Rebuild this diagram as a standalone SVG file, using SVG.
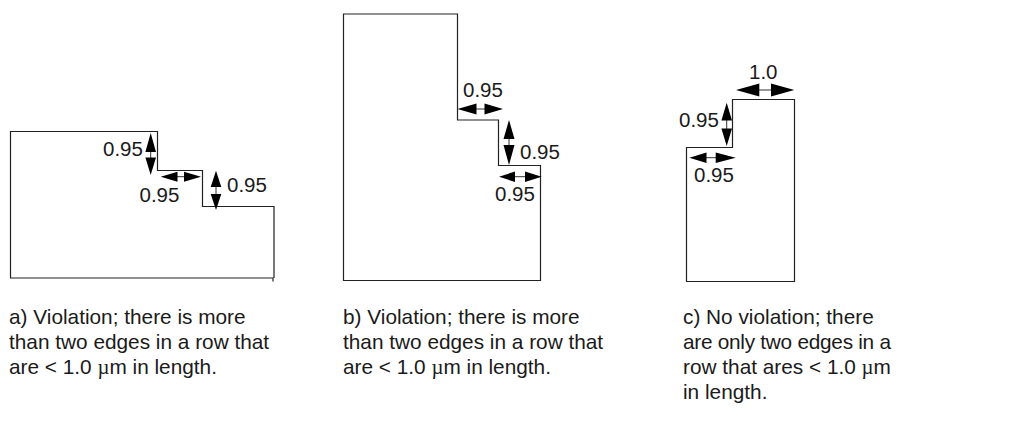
<svg xmlns="http://www.w3.org/2000/svg" width="1013" height="424" viewBox="0 0 1013 424">
<style>
text{font-family:"Liberation Sans",Arial,sans-serif;fill:#1a1a1a}
.d{font-size:20.5px}
.c{font-size:20.8px}
.m{font-family:"Liberation Serif","Times New Roman",serif}
.o{fill:none;stroke:#222;stroke-width:1.2}
.l{stroke:#333;stroke-width:1;fill:none}
.h{fill:#000}
</style>
<rect width="1013" height="424" fill="#fff"/>
<g id="shape-a"><path class="o" d="M273 281.500V278H10.500V131.500H157.500V170.500H202.500V206.500H274V278"/></g>
<g id="shape-b"><path class="o" d="M343.500 280.500V14H457.500V120H498.500V165.500H540.500V280.500Z"/></g>
<g id="shape-c"><path class="o" d="M686.500 281.500V147.500H732.500V99.500H794.500V281.500Z"/></g>
<g id="connectors">
<path class="l" d="M150.700 150V160M177 176.700H185M216 186V195M476 109H485M509 138V146M515 176.700H525M726.700 120V130M759 90H772M706 157.700H716"/>
<path class="h" d="M150.700 133L156 152H145.400ZM150.700 175L145.400 157.500H156Z"/>
<path class="h" d="M160.700 176.700L177.500 171.700V181.700ZM201 176.700L184 171.700V181.700Z"/>
<path class="h" d="M216 170.700L221.300 187H210.700ZM216 210L210.700 194H221.300Z"/>
<path class="h" d="M457.500 109L476.500 103.500V114.500ZM503 109L484.500 103.500V114.500Z"/>
<path class="h" d="M509 120L514.500 139H503.500ZM509 165L503.500 145H514.500Z"/>
<path class="h" d="M499 176.700L515 171.500V182ZM541.700 176.700L525 171.500V182Z"/>
<path class="h" d="M736 90L759.300 83.500V96.500ZM794.300 90L771 83.500V96.500Z"/>
<path class="h" d="M726.700 102.700L732 120.500H721.400ZM726.700 146L721.400 128.500H732Z"/>
<path class="h" d="M689.300 157.700L706.500 152.500V163ZM735.700 157.700L715.700 152.500V163Z"/>
</g>
<g id="labels-a">
<text class="d" x="103" y="156">0.95</text>
<text class="d" x="139.500" y="201.500">0.95</text>
<text class="d" x="227" y="192">0.95</text>
<text class="c" x="9" y="323.500">a) Violation; there is more</text>
<text class="c" x="9" y="348.500">than two edges in a row that</text>
<text class="c" x="9" y="373.500">are &lt; 1.0 <tspan class="m">µ</tspan>m in length.</text>
</g>
<g id="labels-b">
<text class="d" x="463" y="97">0.95</text>
<text class="d" x="520" y="159">0.95</text>
<text class="d" x="495" y="201">0.95</text>
<text class="c" x="343" y="323.500">b) Violation; there is more</text>
<text class="c" x="343" y="348.500">than two edges in a row that</text>
<text class="c" x="343" y="373.500">are &lt; 1.0 <tspan class="m">µ</tspan>m in length.</text>
</g>
<g id="labels-c">
<text class="d" x="749" y="79">1.0</text>
<text class="d" x="679" y="127">0.95</text>
<text class="d" x="694" y="182">0.95</text>
<text class="c" x="683" y="323.500">c) No violation; there</text>
<text class="c" x="683" y="348.500" textLength="208" lengthAdjust="spacing">are only two edges in a</text>
<text class="c" x="683" y="373.500">row that ares &lt; 1.0 <tspan class="m">µ</tspan>m</text>
<text class="c" x="683" y="398.500">in length.</text>
</g>
</svg>
